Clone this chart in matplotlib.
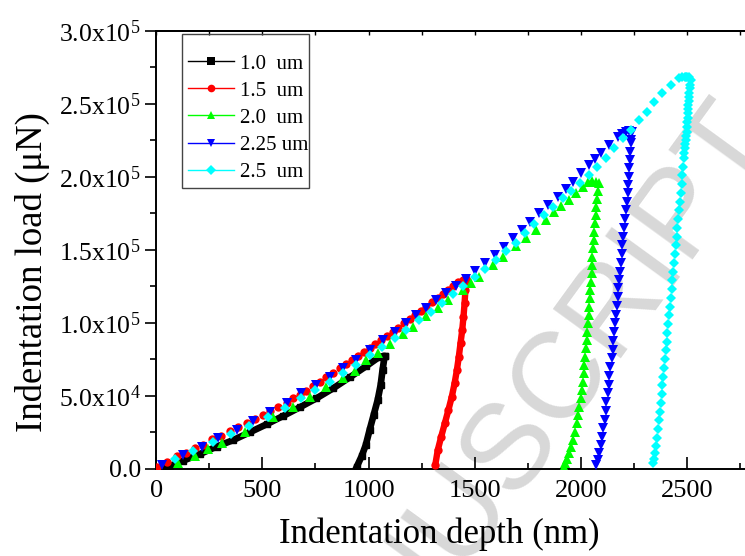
import matplotlib
matplotlib.use("Agg")
import matplotlib.pyplot as plt
from matplotlib.lines import Line2D
from matplotlib.patches import Rectangle

plt.rcParams['font.family'] = ['Liberation Serif', 'DejaVu Serif']
plt.rcParams['mathtext.fontset'] = 'custom'
plt.rcParams['mathtext.rm'] = 'Liberation Serif'
plt.rcParams['mathtext.it'] = 'Liberation Serif:italic'

# ---- data (depth in nm, load in uN) ----
labels = ['1.0  um', '1.5  um', '2.0  um', '2.25 um', '2.5  um']
colors = ['black', '#ff0000', '#00ff00', '#0000ff', '#00ffff']
markers = ['s', 'o', '^', 'v', 'D']

# 1.0 um
black_load_d = [40, 65, 128, 206, 285, 363, 441, 520, 598, 676, 755, 833, 911, 990, 1052, 1076]
black_load_L = [800, 1900, 5600, 10100, 15200, 19700, 25000, 30500, 36200, 42100, 48300, 55100,
                62600, 70400, 76800, 77300]
black_unload_d = [1076, 1066, 1057, 1043, 1024, 1005, 987, 968, 944]
black_unload_L = [77300, 67700, 57400, 47100, 36800, 26600, 16300, 8800, 1200]

# 1.5 um
red_load_d = [3, 50, 97, 140, 183, 222, 264, 305, 347, 386, 426, 465, 504, 538, 574, 614, 645,
              676, 708, 739, 770, 802, 833, 864, 895, 922, 950, 977, 1005, 1032, 1060, 1087,
              1115, 1138, 1165, 1193, 1220, 1245, 1272, 1300, 1326, 1350, 1373, 1397, 1420,
              1444, 1459]
red_load_L = [1200, 4900, 8800, 11050, 14500, 16300, 20200, 22500, 25700, 28400, 31600, 33900,
              37100, 39600, 42600, 45300, 48300, 50500, 53500, 56700, 59700, 62600, 65400, 68800,
              71800, 74500, 77300, 80200, 83000, 85500, 88200, 91000, 93900, 96700, 99600,
              102400, 105300, 108300, 111100, 114300, 117000, 119700, 122500, 125200, 127900,
              129300, 129800]
red_unload_d = [1459, 1456, 1452, 1447, 1441, 1433, 1425, 1416, 1405, 1392, 1376, 1359, 1342,
                1326, 1314]
red_unload_L = [129800, 122500, 113300, 104200, 95100, 86000, 76800, 67700, 58500, 49400, 40300,
                31100, 22000, 12900, 2600]

# 2.0 um
green_load_d = [104, 183, 245, 308, 418, 551, 645, 723, 802, 880, 935, 990, 1045, 1099, 1162,
                1209, 1272, 1326, 1373, 1444, 1483, 1522, 1585, 1632, 1694, 1741, 1788, 1835,
                1875, 1906, 1945, 1976, 2008, 2031, 2050, 2070, 2086]
green_load_L = [4200, 8800, 13300, 17400, 25000, 35300, 42600, 49400, 55800, 62000, 67200, 74500,
                79500, 85500, 92300, 97400, 104700, 109900, 115600, 122500, 127100, 131600,
                139600, 144900, 152700, 157900, 163600, 170500, 176200, 180000, 184100, 188700,
                193200, 196300, 196800, 196500, 195500]
green_unload_d = [2078, 2074, 2071, 2069, 2066, 2063, 2059, 2057, 2054, 2052, 2050, 2047, 2044,
                  2042, 2039, 2036, 2033, 2030, 2026, 2023, 2020, 2016, 2012, 2008, 2003, 1998,
                  1992, 1986, 1979, 1972, 1964, 1955, 1945, 1936, 1926, 1920]
green_unload_L = [190000, 185000, 179500, 174000, 168200, 162500, 156700, 151000, 145300, 139600,
                  133900, 128200, 122500, 116800, 111000, 105400, 99700, 94000, 88200, 82500,
                  76800, 71100, 65400, 59700, 54000, 48300, 42500, 36900, 31200, 25500, 19700,
                  15000, 10600, 7000, 3800, 1200]

# 2.25 um
blue_load_d = [26, 128, 214, 292, 379, 457, 535, 614, 684, 755, 817, 880, 942, 1005, 1068, 1123,
               1177, 1224, 1272, 1318, 1365, 1412, 1459, 1503, 1546, 1593, 1636, 1679, 1721,
               1762, 1804, 1846, 1890, 1929, 1961, 2000, 2039, 2066, 2094, 2133, 2172, 2192,
               2211, 2225, 2238]
blue_load_L = [2600, 9500, 15200, 20900, 26600, 33000, 39100, 45300, 51700, 57400, 63100, 68800,
               74500, 81400, 88200, 93900, 99600, 105400, 109900, 115300, 120200, 125300,
               130100, 135500, 140800, 146500, 152200, 157900, 163600, 169300, 175000, 180700,
               186400, 191400, 196600, 202400, 208100, 212000, 216100, 221800, 227500, 229500,
               230900, 231300, 230500]
blue_unload_d = [2236, 2235, 2233, 2230, 2227, 2224, 2222, 2219, 2215, 2211, 2208, 2204, 2199,
                 2195, 2192, 2188, 2184, 2180, 2176, 2172, 2169, 2165, 2161, 2157, 2153, 2149,
                 2144, 2138, 2134, 2130, 2125, 2120, 2116, 2111, 2105, 2099, 2093, 2086, 2080,
                 2073]
blue_unload_L = [225500, 222900, 217000, 211500, 205800, 200100, 194400, 188700, 183000, 177300,
                 171000, 164700, 159000, 153300, 147000, 140800, 135000, 129300, 123600, 117900,
                 111600, 105300, 99600, 93900, 87600, 81400, 75600, 69900, 63600, 57400, 51700,
                 46000, 39700, 33400, 27700, 22000, 16300, 10600, 6000, 2600]

# 2.5 um
cyan_load_d = [89, 175, 269, 355, 438, 527, 606, 684, 750, 817, 880, 942, 1005, 1065, 1123, 1177,
               1237, 1292, 1345, 1397, 1447, 1499, 1546, 1600, 1647, 1694, 1738, 1781, 1825,
               1867, 1914, 1955, 1995, 2036, 2076, 2116, 2156, 2196, 2235, 2274, 2313, 2344,
               2383, 2423, 2462, 2475, 2488, 2495, 2501, 2508]
cyan_load_L = [6500, 12400, 18600, 23800, 29600, 35700, 41900, 48300, 54000, 59700, 65400, 71100,
               77900, 83600, 89400, 95100, 101900, 107600, 113800, 119500, 125200, 131600,
               136600, 143000, 149400, 154900, 161300, 167400, 173800, 179500, 185300, 190500,
               196000, 201500, 207000, 213000, 219500, 226400, 232100, 238900, 244600, 251400,
               257200, 262900, 267500, 268200, 268600, 268700, 268600, 268300]
cyan_unload_d = [2517, 2514, 2512, 2510, 2509, 2507, 2506, 2504, 2503, 2502, 2501, 2499, 2498,
                 2495, 2493, 2491, 2490, 2487, 2484, 2481, 2477, 2474, 2470, 2466, 2462, 2458,
                 2454, 2450, 2446, 2442, 2438, 2434, 2430, 2427, 2423, 2419, 2415, 2411, 2407,
                 2403, 2399, 2395, 2391, 2387, 2383, 2380, 2376, 2372, 2368, 2364, 2360, 2355,
                 2349, 2345, 2341]
cyan_unload_L = [266300, 263000, 260600, 257700, 254900, 252000, 249200, 246300, 243500, 240600,
                 237700, 234300, 230900, 228000, 225200, 222300, 219500, 216600, 213000, 207000,
                 201200, 195000, 188700, 183000, 177300, 171000, 164700, 159000, 153300, 147000,
                 140800, 135000, 129300, 123000, 116800, 111000, 105300, 99000, 92800, 87000,
                 81400, 75000, 68800, 63000, 57400, 51000, 44900, 39000, 33400, 27000, 20900,
                 15500, 10600, 7000, 4200]

y_ticks = [0, 50000, 100000, 150000, 200000, 250000, 300000]
y_tick_labels = ['0.0', '5.0x10$^{\\mathrm{4}}$', '1.0x10$^{\\mathrm{5}}$', '1.5x10$^{\\mathrm{5}}$',
                 '2.0x10$^{\\mathrm{5}}$', '2.5x10$^{\\mathrm{5}}$', '3.0x10$^{\\mathrm{5}}$']
x_ticks = [0, 500, 1000, 1500, 2000, 2500]

fig = plt.figure(figsize=(7.45, 5.56), dpi=100)
fig.patch.set_facecolor('white')

# faint watermark behind everything
fig.text(1.012, 0.781, 'ACCEPTED MANUSCRIPT', fontsize=88, color='#d8d8d8',
         family='Liberation Sans', rotation=54, rotation_mode='anchor',
         ha='right', va='center', zorder=-5)

ax = fig.add_axes([0.2095, 0.1568, 0.7905, 0.7878])
ax.set_facecolor('none')

# dense curves look like solid bands
ax.plot(black_load_d + black_unload_d, black_load_L + black_unload_L, color='black', lw=4.8,
        solid_joinstyle='round', zorder=2)
ax.plot(black_load_d + black_unload_d, black_load_L + black_unload_L, 's', color='black', ms=4.5,
        zorder=2)
ax.plot(red_unload_d, red_unload_L, color='#ff0000', lw=4.6, solid_capstyle='round', zorder=3)

series = [
    (red_load_d + red_unload_d, red_load_L + red_unload_L),
    (green_load_d + green_unload_d, green_load_L + green_unload_L),
    (blue_load_d + blue_unload_d, blue_load_L + blue_unload_L),
    (cyan_load_d + cyan_unload_d, cyan_load_L + cyan_unload_L),
]
sizes = [6.0, 7.0, 7.0, 5.5]
for i, (d, L) in enumerate(series):
    ax.plot(d, L, linestyle='none', marker=markers[i + 1], color=colors[i + 1],
            ms=sizes[i], mew=0, zorder=3 + i)

ax.set_xlim(0, 2772)
ax.set_ylim(0, 300000)
ax.set_xticks(x_ticks)
ax.set_xticks(range(250, 2772, 500), minor=True)
ax.set_yticks(y_ticks)
ax.set_yticklabels(y_tick_labels)
ax.set_yticks(range(25000, 300000, 50000), minor=True)

ax.tick_params(axis='x', which='major', direction='in', length=9, width=1.2, labelsize=19, pad=8)
ax.tick_params(axis='x', which='minor', direction='in', length=4.5, width=1.2)
ax.tick_params(axis='y', which='major', direction='out', length=8, width=1.2, labelsize=18.5, pad=3)
ax.tick_params(axis='y', which='minor', direction='out', length=4, width=1.2)
for s in ['left', 'bottom', 'top']:
    ax.spines[s].set_linewidth(1.4)
ax.spines['right'].set_visible(False)

# small tick marks on the top frame
top = ax.secondary_xaxis('top')
top.set_xticks(range(0, 2772, 250))
top.tick_params(direction='in', length=3, width=1, labeltop=False)
top.spines['top'].set_linewidth(1.4)

ax.set_xlabel('Indentation depth (nm)', fontsize=25)
ax.xaxis.set_label_coords(0.48, -0.11)
ax.set_ylabel('Indentation load (\u03bcN)', fontsize=26.5)
ax.yaxis.set_label_coords(-0.18, 0.449)

# legend: no frame from matplotlib, box drawn separately to match the tall padding
handles = [Line2D([], [], color=c, marker=m, lw=1, ms=5.5, mew=0) for c, m in zip(colors, markers)]
leg = ax.legend(handles, labels, loc='upper left', bbox_to_anchor=(188 / 745, 1 - 54 / 556),
                bbox_transform=fig.transFigure, borderaxespad=0, borderpad=0,
                fontsize=15, handlelength=2.2, handletextpad=0.3, labelspacing=0.36,
                frameon=False)
fig.add_artist(Rectangle((182 / 745, 1 - 188 / 556), 127 / 745, 154 / 556,
                         transform=fig.transFigure, fill=False, ec='#444444', lw=1.0))

fig.savefig('out.png', dpi=100)
